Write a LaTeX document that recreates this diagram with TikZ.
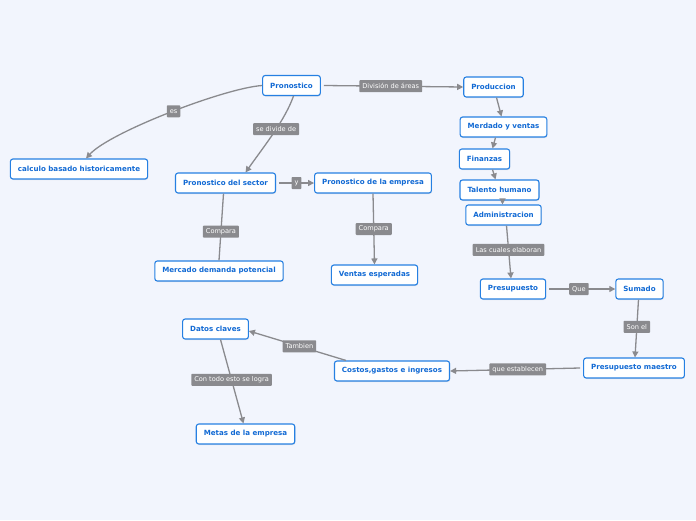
\documentclass[tikz,border=0pt]{standalone}
\usepackage{fontspec}
\setmainfont{DejaVu Sans}
\usepackage{tikz}
\usetikzlibrary{arrows.meta,shadows}
\definecolor{MapBg}{RGB}{242,245,253}
\definecolor{MapBlue}{RGB}{38,128,226}
\definecolor{MapText}{RGB}{18,106,212}
\definecolor{MapGray}{RGB}{138,138,142}

\begin{document}
\begin{tikzpicture}[x=1pt,y=-1pt,
  topic/.style={draw=MapBlue,fill=white,line width=1.1pt,rounded corners=2.5pt,
    text=MapText,font=\fontsize{7.1}{8}\selectfont\bfseries,inner xsep=7.5pt,
    minimum height=20pt,drop shadow={opacity=0.18,shadow xshift=0.6pt,shadow yshift=-1pt}},
  lbl/.style={fill=MapGray,text=white,font=\fontsize{6.6}{7}\selectfont,inner xsep=3pt,
    inner ysep=1.5pt,minimum height=12pt,rounded corners=0.8pt},
  edge/.style={draw=MapGray,line width=1.3pt},
  arr/.style={edge,-{Triangle[length=6pt,width=6pt]}}]
\fill[MapBg] (0,0) rectangle (696,520);
\useasboundingbox (0,0) rectangle (696,520);
% nodes
\node[topic](pron) at(291.5,85.5) {Pronostico};
\node[topic](calc) at(79,169) {calculo basado historicamente};
\node[topic](sect) at(225.5,183) {Pronostico del sector};
\node[topic](empr) at(373,183) {Pronostico de la empresa};
\node[topic](prod) at(493.5,87) {Produccion};
\node[topic](merc) at(503.5,127) {Merdado y ventas};
\node[topic](fina) at(484.5,159) {Finanzas};
\node[topic](tale) at(499.5,190) {Talento humano};
\node[topic](admi) at(503.5,215) {Administracion};
\node[topic](dema) at(219,271) {Mercado demanda potencial};
\node[topic](vent) at(374.5,275) {Ventas esperadas};
\node[topic](pres) at(513,289) {Presupuesto};
\node[topic](suma) at(639.5,289) {Sumado};
\node[topic](maes) at(634,368) {Presupuesto maestro};
\node[topic](cost) at(392,371) {Costos,gastos e ingresos};
\node[topic](dato) at(215.5,329) {Datos claves};
\node[topic](meta) at(245.5,434) {Metas de la empresa};
% connectors
\draw[arr] (pron.west) .. controls (225,88) and (110,132) .. node[lbl,pos=0.48]{es} ([xshift=7pt]calc.north);
\draw[arr] ([xshift=2pt]pron.south) .. controls (285,120) and (265,145) .. node[lbl,pos=0.45]{se divide de} ([xshift=20pt]sect.north);
\draw[arr] ([xshift=3pt]pron.east) -- node[lbl,pos=0.48]{División de áreas} (prod.west);
\draw[arr] ([xshift=3pt]prod.south) -- ([xshift=-2pt]merc.north);
\draw[arr] ([xshift=-8pt]merc.south) -- ([xshift=8pt]fina.north);
\draw[arr] ([xshift=8pt]fina.south) -- ([xshift=-4pt]tale.north);
\draw[arr] ([xshift=3pt]tale.south) -- ([xshift=-1pt]admi.north);
\draw[arr] ([xshift=3pt]admi.south) -- node[lbl,pos=0.46]{Las cuales elaboran} ([xshift=-2pt]pres.north);
\draw[arr] ([xshift=3pt]sect.east) -- node[lbl]{y} (empr.west);
\draw[edge] ([xshift=-2pt]sect.south) -- node[lbl,pos=0.57]{Compara} (dema.north);
\draw[arr] (empr.south) -- node[lbl,pos=0.5]{Compara} (vent.north);
\draw[arr] ([xshift=3pt]pres.east) -- node[lbl,pos=0.45]{Que} (suma.west);
\draw[arr] ([xshift=-1pt]suma.south) -- node[lbl,pos=0.47]{Son el} ([xshift=1pt]maes.north);
\draw[arr] ([xshift=-3pt]maes.west) -- node[lbl,pos=0.48]{que establecen} (cost.east);
\draw[arr] ([xshift=-46pt]cost.north) -- node[lbl,pos=0.48]{Tambien} ([yshift=-2pt]dato.east);
\draw[arr] ([xshift=5pt]dato.south) -- node[lbl,pos=0.48]{Con todo esto se logra} ([xshift=-2pt]meta.north);
\end{tikzpicture}
\end{document}
